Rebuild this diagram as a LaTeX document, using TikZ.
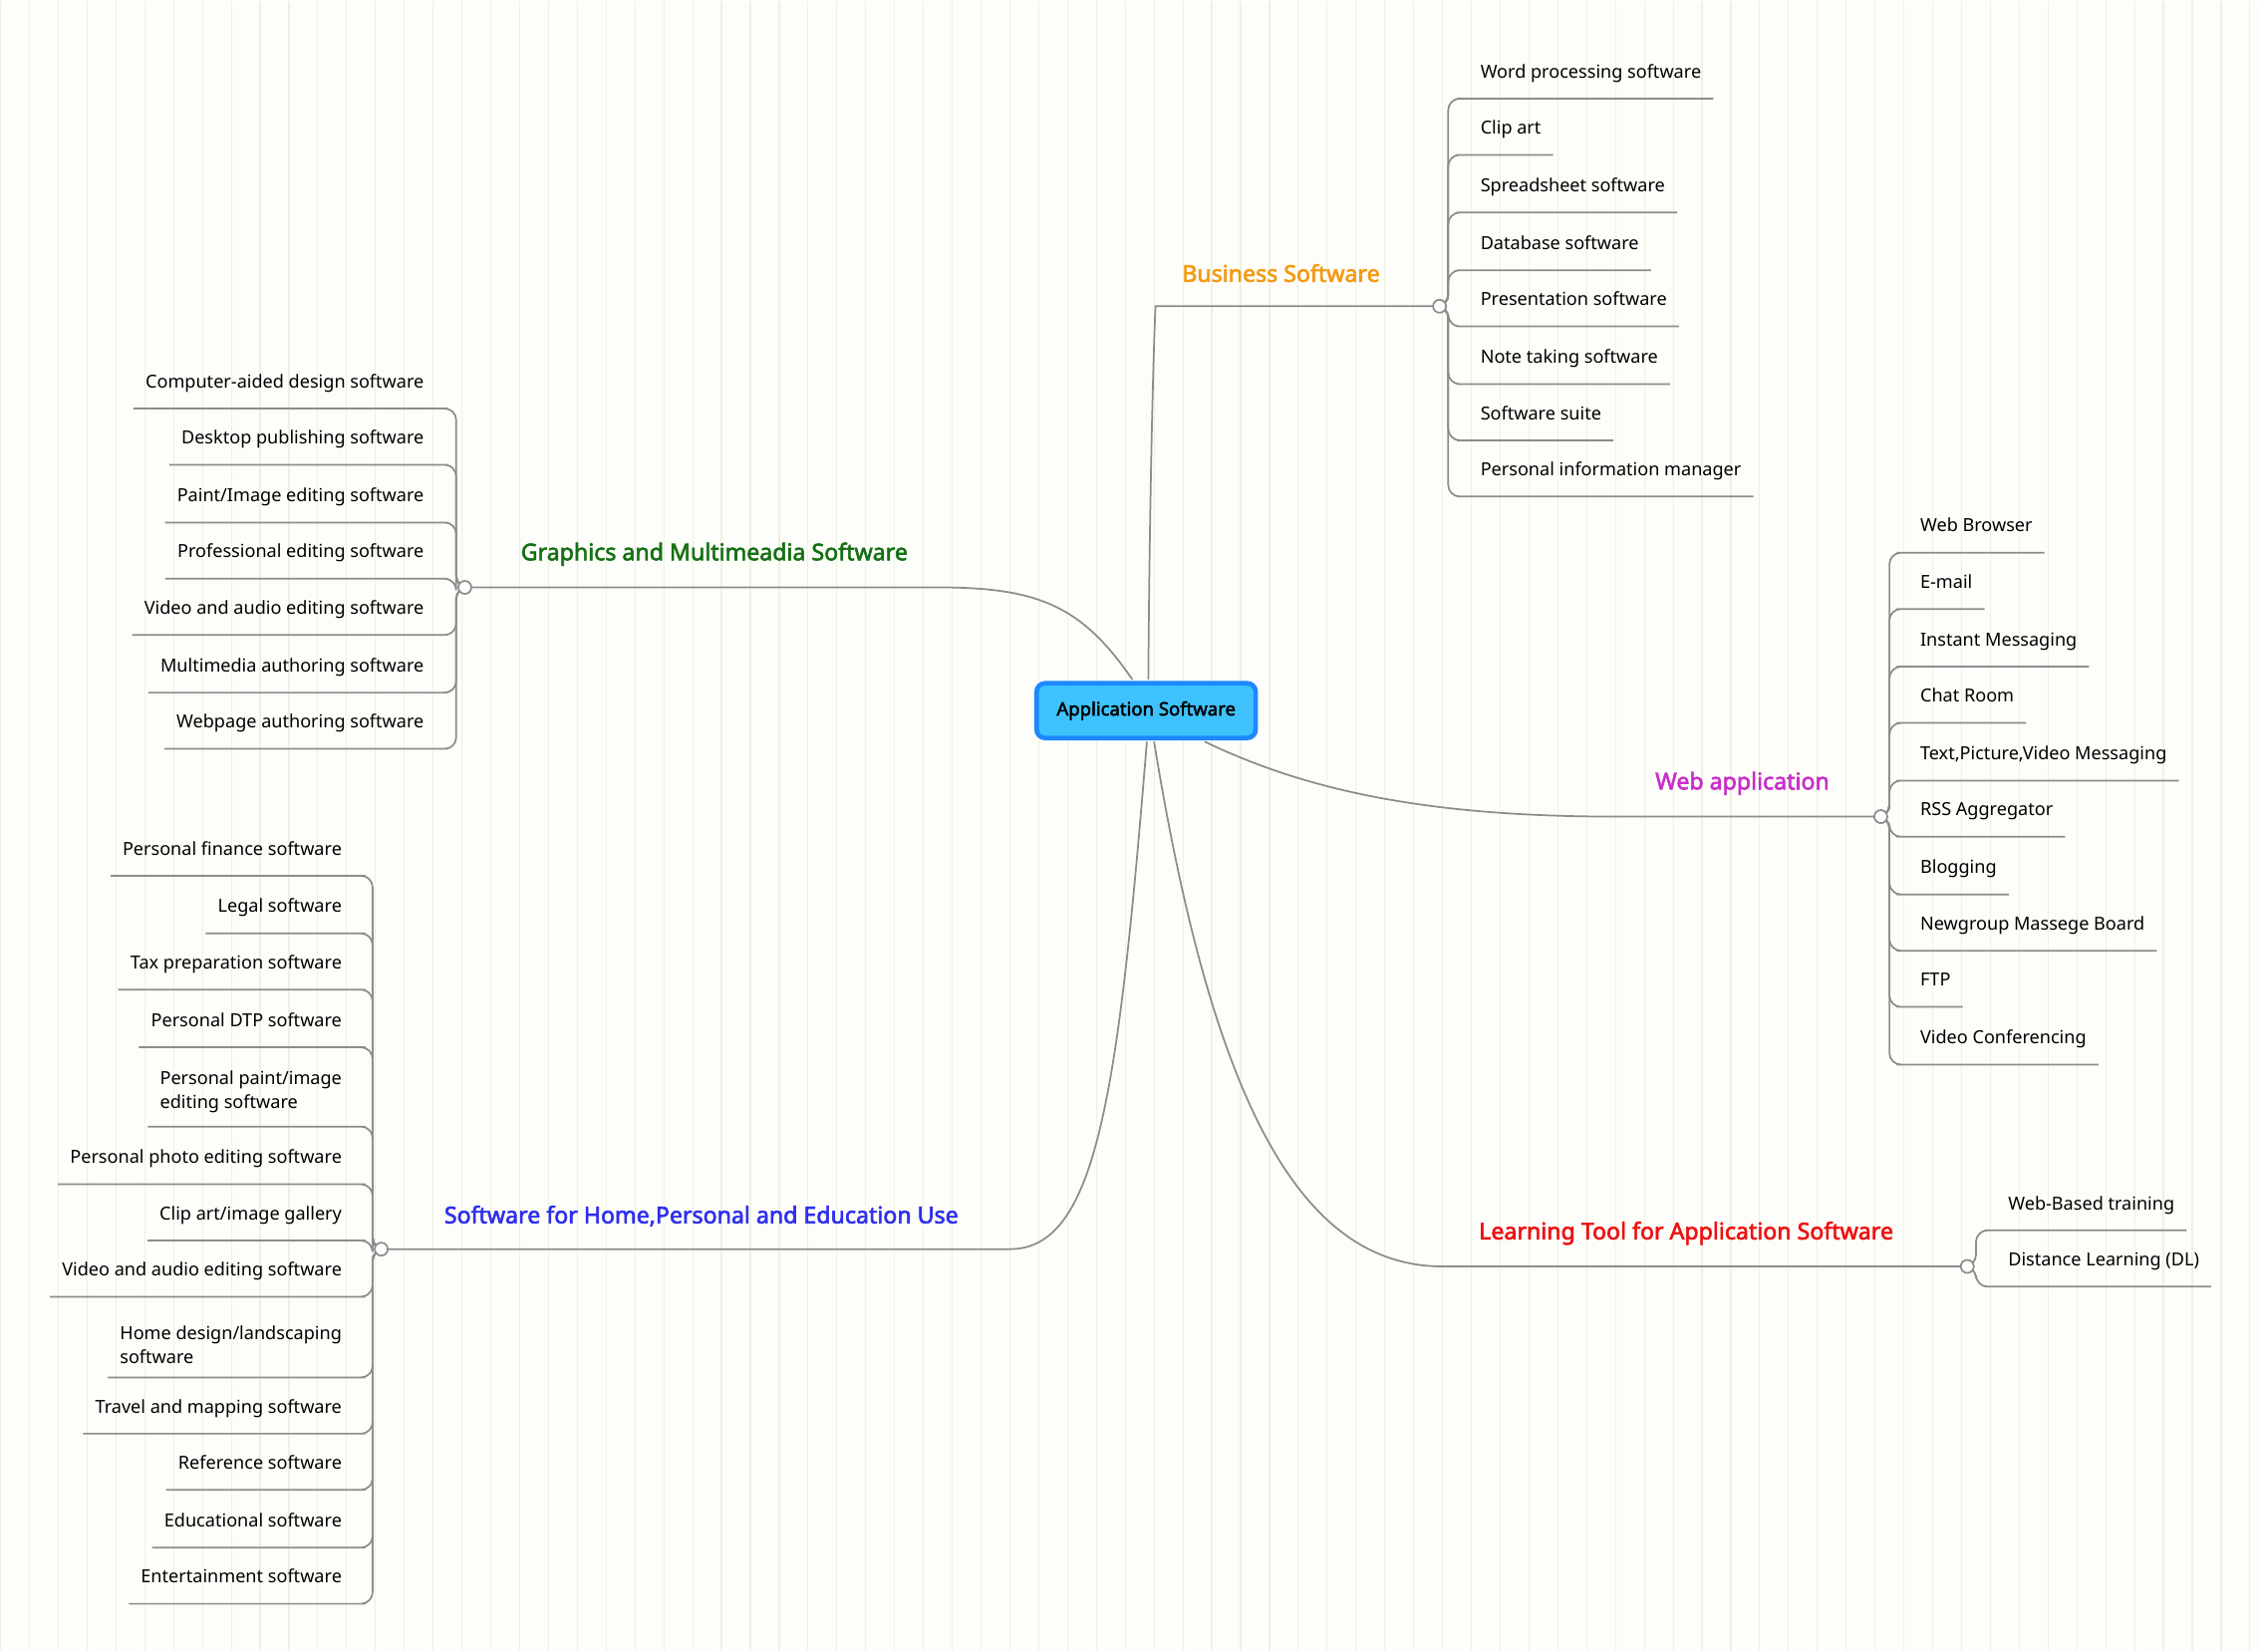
\documentclass[tikz,border=0pt]{standalone}
\usepackage{fontspec}
\setmainfont{Noto Sans}[BoldFont={Noto Sans},BoldFeatures={FakeBold=2.5}]
\begin{document}
\definecolor{linegray}{HTML}{8C8C8C}
\definecolor{gridc}{HTML}{EDF2E0}
\definecolor{bgc}{HTML}{FDFDF9}
\definecolor{corange}{HTML}{F59A12}
\definecolor{cgreen}{HTML}{157015}
\definecolor{cmag}{HTML}{C92EC9}
\definecolor{cred}{HTML}{EE1111}
\definecolor{cblue}{HTML}{2E2EEE}
\definecolor{rootfill}{HTML}{3EC3FF}
\definecolor{rootdraw}{HTML}{1E88FF}
\begin{tikzpicture}[x=0.5pt,y=-0.5pt,
  leafbase/.style={font=\fontsize{6.25pt}{8.3pt}\selectfont, inner xsep=4pt},
  leaf/.style={leafbase, inner ysep=5.5pt, text height=5pt, text depth=1.5pt},
  leaf2/.style={leafbase, align=left, inner ysep=4.5pt},
  conn/.style={draw=linegray, line width=0.6pt},
  hubc/.style={circle, draw=linegray, line width=0.6pt, fill=white, inner sep=0pt, minimum size=4.5pt},
  blabel/.style={font=\fontsize{8pt}{10pt}\selectfont\bfseries}]
\fill[bgc] (0,0) rectangle (1568,1145);
\draw[gridc, line width=0.4pt, step=20] (0,0) grid (1568,1145);
\useasboundingbox (0,0) rectangle (1568,1145);

% root
\node[draw=rootdraw, line width=1.6pt, fill=rootfill, rounded corners=3pt, minimum width=76pt, minimum height=19pt, font=\fontsize{6.4pt}{8pt}\selectfont\bfseries] (root) at (794.5,492.5) {Application Software};

% hubs (coordinates; circles drawn last)
\coordinate (bh) at (998,212);
\coordinate (gh) at (322,407);
\coordinate (wh) at (1304,566);
\coordinate (lh) at (1364,878);
\coordinate (hh) at (264,866);

% branch labels
\node[blabel, text=corange] (bl) at (888,189) {Business Software};
\node[blabel, text=cgreen] (gl) at (495,384) {Graphics and Multimeadia Software};
\node[blabel, text=cmag] (wl) at (1208,543) {Web application};
\node[blabel, text=cred] (ll) at (1169,855) {Learning Tool for Application Software};
\node[blabel, text=cblue] (hl) at (486,843) {Software for Home,Personal and Education Use};

% main connectors
\coordinate (r1) at (796,471);
\coordinate (r2) at (785,471);
\coordinate (r3) at (835,514);
\coordinate (r4) at (800,514);
\coordinate (r5) at (795,514);
\draw[conn] (r1) .. controls (797,330) and (800,230) .. (801,212) -- (bh);
\draw[conn] (r2) .. controls (750,420) and (720,407) .. (650,407) -- (gh);
\draw[conn] (r3) .. controls (900,545) and (980,566) .. (1120,566) -- (wh);
\draw[conn] (r4) .. controls (840,760) and (900,878) .. (1000,878) -- (lh);
\draw[conn] (r5) .. controls (775,760) and (760,866) .. (700,866) -- (hh);

% business leaves
\foreach \i/\u/\t in {1/68/{Word processing software},2/107/{Clip art},3/147/{Spreadsheet software},4/187/{Database software},5/226/{Presentation software},6/266/{Note taking software},7/305/{Software suite},8/344/{Personal information manager}}{
  \node[leaf, anchor=south west] (b\i) at (1018,\u) {\t};
  \draw[conn, rounded corners=4pt] (bh) -- ++(6,0) |- (b\i.south west) -- (b\i.south east);
}
% web leaves
\foreach \i/\u/\t in {1/383/{Web Browser},2/422/{E-mail},3/462/{Instant Messaging},4/501/{Chat Room},5/541/{Text,Picture,Video Messaging},6/580/{RSS Aggregator},7/620/{Blogging},8/659/{Newgroup Massege Board},9/698/{FTP},10/738/{Video Conferencing}}{
  \node[leaf, anchor=south west] (w\i) at (1323,\u) {\t};
  \draw[conn, rounded corners=4pt] (wh) -- ++(6,0) |- (w\i.south west) -- (w\i.south east);
}
% learning leaves
\foreach \i/\u/\t in {1/853/{Web-Based training},2/892/{Distance Learning (DL)}}{
  \node[leaf, anchor=south west] (l\i) at (1384,\u) {\t};
  \draw[conn, rounded corners=4pt] (lh) -- ++(6,0) |- (l\i.south west) -- (l\i.south east);
}
% graphics leaves
\foreach \i/\u/\t in {1/283/{Computer-aided design software},2/322/{Desktop publishing software},3/362/{Paint/Image editing software},4/401/{Professional editing software},5/440/{Video and audio editing software},6/480/{Multimedia authoring software},7/519/{Webpage authoring software}}{
  \node[leaf, anchor=south east] (g\i) at (302,\u) {\t};
  \draw[conn, rounded corners=4pt] (gh) -- ++(-6,0) |- (g\i.south east) -- (g\i.south west);
}
% home leaves
\foreach \i/\u/\t in {1/607/{Personal finance software},2/647/{Legal software},3/686/{Tax preparation software},4/726/{Personal DTP software},6/821/{Personal photo editing software},7/860/{Clip art/image gallery},8/899/{Video and audio editing software},10/994/{Travel and mapping software},11/1033/{Reference software},12/1073/{Educational software},13/1112/{Entertainment software}}{
  \node[leaf, anchor=south east] (h\i) at (245,\u) {\t};
  \draw[conn, rounded corners=4pt] (hh) -- ++(-6,0) |- (h\i.south east) -- (h\i.south west);
}
\foreach \i/\u/\t in {5/781/{Personal paint/image\\editing software},9/955/{Home design/landscaping\\software}}{
  \node[leaf2, anchor=south east] (h\i) at (245,\u) {\t};
  \draw[conn, rounded corners=4pt] (hh) -- ++(-6,0) |- (h\i.south east) -- (h\i.south west);
}
% hub circles on top
\foreach \h in {bh,gh,wh,lh,hh}{
  \node[hubc] (\h c) at (\h) {};
}
\end{tikzpicture}
\end{document}
